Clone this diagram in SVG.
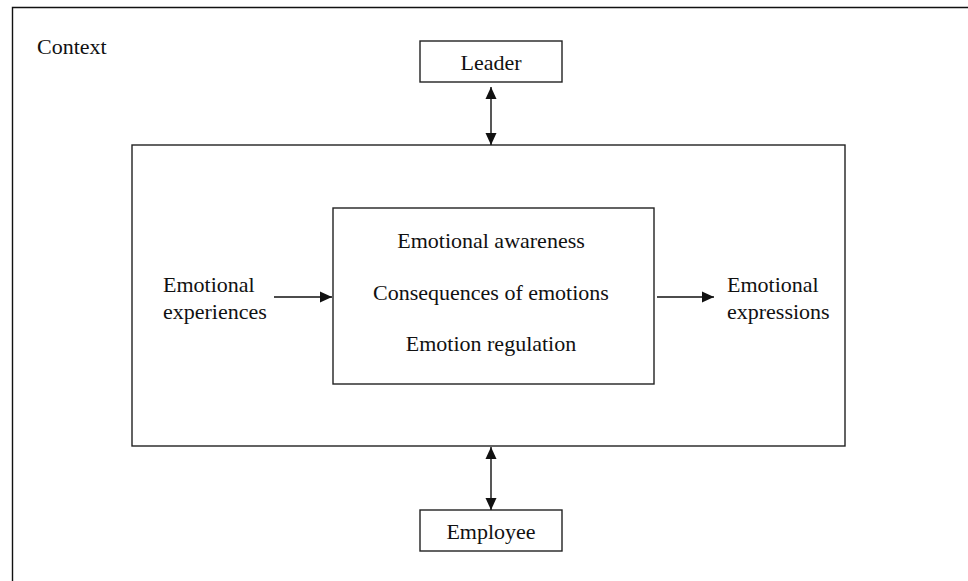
<svg xmlns="http://www.w3.org/2000/svg" width="968" height="581" viewBox="0 0 968 581">
<defs>
<marker id="ah" viewBox="0 0 12 12" refX="12" refY="6" markerWidth="12" markerHeight="12" markerUnits="userSpaceOnUse" orient="auto-start-reverse">
<path d="M0,0.5 L12,6 L0,11.5 z" fill="#111"/>
</marker>
<style>
.box{fill:#fff;stroke:#222;stroke-width:1.4}
.ln{stroke:#111;stroke-width:1.4;fill:none}
text{font-family:"Liberation Serif","Times New Roman",serif;font-size:22px;fill:#111}
.c{text-anchor:middle}
</style>
</defs>
<rect width="968" height="581" fill="#fff"/>
<g id="context">
<path class="ln" d="M12.5,581 V7.5 H968" stroke="#333" stroke-width="2"/>
<text x="37" y="54">Context</text>
</g>
<g id="outer">
<rect class="box" x="132" y="145" width="713" height="301"/>
</g>
<g id="leader">
<rect class="box" x="420" y="41" width="142" height="41"/>
<text class="c" x="491" y="70">Leader</text>
</g>
<g id="employee">
<rect class="box" x="420" y="510" width="142" height="41"/>
<text class="c" x="491" y="539">Employee</text>
</g>
<g id="inner">
<rect class="box" x="333" y="208" width="321" height="176"/>
<text class="c" x="491" y="248">Emotional awareness</text>
<text class="c" x="491" y="300">Consequences of emotions</text>
<text class="c" x="491" y="351">Emotion regulation</text>
</g>
<g id="experiences">
<text x="163" y="292">Emotional</text>
<text x="163" y="319">experiences</text>
</g>
<g id="expressions">
<text x="727" y="292">Emotional</text>
<text x="727" y="319">expressions</text>
</g>
<g id="connectors">
<line class="ln" x1="491" y1="87" x2="491" y2="145" marker-start="url(#ah)" marker-end="url(#ah)"/>
<line class="ln" x1="491" y1="447" x2="491" y2="510" marker-start="url(#ah)" marker-end="url(#ah)"/>
<line class="ln" x1="274" y1="297" x2="332" y2="297" marker-end="url(#ah)"/>
<line class="ln" x1="657" y1="297" x2="714" y2="297" marker-end="url(#ah)"/>
</g>
</svg>
